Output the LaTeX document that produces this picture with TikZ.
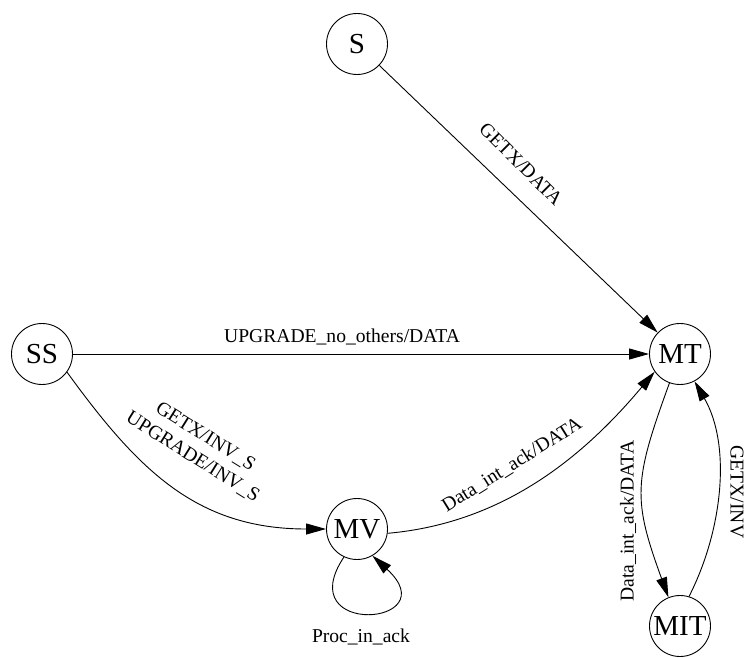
\documentclass[tikz,border=0pt]{standalone}
\usepackage{fontspec}
\setmainfont{Liberation Serif}
\usetikzlibrary{arrows.meta}
\begin{document}
\begin{tikzpicture}[x=1pt,y=1pt,
  state/.style={circle,draw,line width=0.9pt,minimum size=61pt,inner sep=0pt,font=\fontsize{29}{29}\selectfont},
  lbl/.style={inner sep=0pt,font=\fontsize{19.6}{24}\selectfont},
  conn/.style={line width=0.9pt,-{Triangle[length=20pt,width=11pt]}}]
\useasboundingbox (0,0) rectangle (747,657);
% states
\node[state] (S) at (357,613) {S};
\node[state] (SS) at (42,303) {SS};
\node[state] (MT) at (680,303) {MT};
\node[state] (MV) at (357,128) {MV};
\node[state] (MIT) at (680,31) {MIT};
% transitions
\draw[conn] (S) -- (MT);
\draw[conn] (SS) -- (MT);
\draw[conn] (SS.-36) .. controls +(-54:120) and +(-130,0) .. (MV.west);
\draw[conn] (MV.-8) .. controls +(5:120) and +(230:105) .. (MT.215);
\draw[conn] (MT.250) .. controls +(-110:105) and +(110:105) .. (MIT.112);
\draw[conn] (MIT.73) .. controls +(63:74) and +(-60:74) .. (MT.-62);
\draw[conn] (MV.-115) .. controls +(-54,-81) and +(76,-70) .. (MV.-60);
% labels
\node[lbl,rotate=-45] (l1) at (521,493) {GETX/DATA};
\node[lbl] (l2) at (342,320) {UPGRADE\_no\_others/DATA};
\node[lbl,rotate=-32,align=center] (l3) at (199,210) {GETX/INV\_S\\UPGRADE/INV\_S};
\node[lbl,rotate=32] (l4) at (512,192) {Data\_int\_ack/DATA};
\node[lbl,rotate=90] (l5) at (628,136) {Data\_int\_ack/DATA};
\node[lbl,rotate=-90] (l6) at (737,165) {GETX/INV};
\node[lbl] (l7) at (361,20) {Proc\_in\_ack};
\end{tikzpicture}
\end{document}
